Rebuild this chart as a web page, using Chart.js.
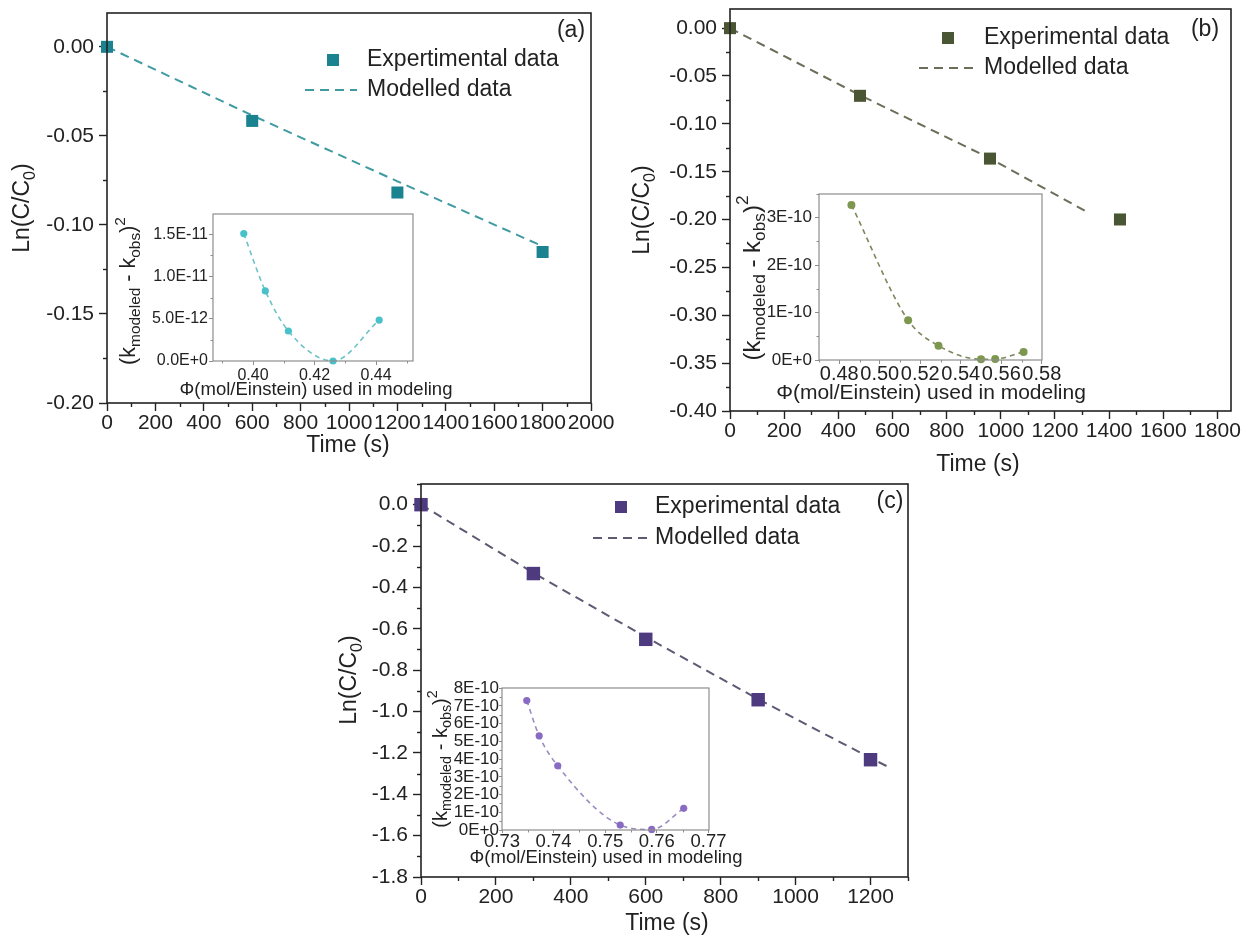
<!DOCTYPE html>
<html>
<head>
<meta charset="utf-8">
<script src="https://cdn.jsdelivr.net/npm/chart.js@4.4.1/dist/chart.umd.min.js"></script>
<style>
  body { margin: 0; background: #fff; }
  #fig { position: relative; width: 1242px; height: 939px; overflow: hidden; background: #fff; }
  #fig canvas { position: absolute; }
</style>
</head>
<body>
<div id="fig"></div>
<script>
// ---- (a) ----
const timeA = [0, 600, 1200, 1800];
const lnA = [0, -0.0416, -0.0818, -0.1152];
const modelTimeA = [0, 600, 1200, 1800];
const modelLnA = [0, -0.0385, -0.0755, -0.112];
const phiA = [0.397, 0.404, 0.4115, 0.426, 0.441];
const errA = [1.508e-11, 8.3e-12, 3.55e-12, 0, 4.85e-12];

// ---- (b) ----
const timeB = [0, 480, 960, 1440];
const lnB = [0, -0.0707, -0.1363, -0.1999];
const modelTimeB = [0, 480, 960, 1315];
const modelLnB = [0, -0.07, -0.136, -0.1915];
const phiB = [0.486, 0.514, 0.529, 0.55, 0.557, 0.571];
const errB = [3.27e-10, 0.84e-10, 0.30e-10, 0.015e-10, 0.02e-10, 0.17e-10];

// ---- (c) ----
const timeC = [0, 300, 600, 900, 1200];
const lnC = [0, -0.333, -0.651, -0.943, -1.233];
const modelTimeC = [0, 300, 600, 900, 1200, 1250];
const modelLnC = [0, -0.33, -0.64, -0.94, -1.225, -1.27];
const phiC = [0.7348, 0.7372, 0.7408, 0.7529, 0.759, 0.7652];
const errC = [7.3e-10, 5.31e-10, 3.62e-10, 0.28e-10, 0.03e-10, 1.22e-10];

// ---- tick labels ----
const timeTicksA = [0, 200, 400, 600, 800, 1000, 1200, 1400, 1600, 1800, 2000];
const lnTicksA = [-0.20, -0.15, -0.10, -0.05, 0.00];
const phiTicksA = [0.40, 0.42, 0.44];
const errTicksA = [0, 5e-12, 1e-11, 1.5e-11];

const timeTicksB = [0, 200, 400, 600, 800, 1000, 1200, 1400, 1600, 1800];
const lnTicksB = [-0.40, -0.35, -0.30, -0.25, -0.20, -0.15, -0.10, -0.05, 0.00];
const phiTicksB = [0.48, 0.50, 0.52, 0.54, 0.56, 0.58];
const errTicksB = [0, 1e-10, 2e-10, 3e-10];

const timeTicksC = [0, 200, 400, 600, 800, 1000, 1200];
const lnTicksC = [-1.8, -1.6, -1.4, -1.2, -1.0, -0.8, -0.6, -0.4, -0.2, 0.0];
const phiTicksC = [0.73, 0.74, 0.75, 0.76, 0.77];
const errTicksC = [0, 1e-10, 2e-10, 3e-10, 4e-10, 5e-10, 6e-10, 7e-10, 8e-10];

const FONT = '"Liberation Sans", Arial, Helvetica, sans-serif';
const INK = '#222';
const fig = document.getElementById('fig');

const toXY = (xs, ys) => xs.map((x, i) => ({ x, y: ys[i] }));
const fixed = (v, d) => (Math.abs(v) < 1e-12 ? 0 : v).toFixed(d);

function fmtE(v, d) {
  if (Math.abs(v) < 1e-30) return (0).toFixed(d) + 'E+0';
  const e = Math.floor(Math.log10(Math.abs(v)) + 1e-9);
  const m = v / Math.pow(10, e);
  return m.toFixed(d) + 'E' + (e < 0 ? '-' : '+') + Math.abs(e);
}

function minorTicks(ticks, min, max) {
  const t = ticks.slice().sort((p, q) => p - q);
  const step = t[1] - t[0];
  const out = [];
  for (let v = t[0] - step / 2; v >= min - 1e-12; v -= step) out.push(v);
  for (let i = 0; i < t.length - 1; i++) out.push((t[i] + t[i + 1]) / 2);
  for (let v = t[t.length - 1] + step / 2; v <= max + step * 1e-6; v += step) out.push(v);
  return out;
}

function seg(ctx, x1, y1, x2, y2) {
  ctx.beginPath(); ctx.moveTo(x1, y1); ctx.lineTo(x2, y2); ctx.stroke();
}

// text with sub/superscripts, centred on (x, y), optionally rotated
function richText(ctx, parts, x, y, size, rotate, subScale) {
  ctx.save();
  ctx.translate(x, y);
  if (rotate) ctx.rotate(-Math.PI / 2);
  const small = size * (subScale || 0.7);
  const widths = parts.map(p => {
    ctx.font = (p.s ? small : size) + 'px ' + FONT;
    return ctx.measureText(p.t).width;
  });
  let cx = -widths.reduce((s, w) => s + w, 0) / 2;
  ctx.textBaseline = 'middle';
  ctx.textAlign = 'left';
  ctx.fillStyle = INK;
  parts.forEach((p, i) => {
    ctx.font = (p.s ? small : size) + 'px ' + FONT;
    const dy = p.s === 'sub' ? size * 0.32 : p.s === 'sup' ? -size * 0.4 : 0;
    ctx.fillText(p.t, cx, dy);
    cx += widths[i];
  });
  ctx.restore();
}

const lnTitle = [{ t: 'Ln(C/C' }, { t: '0', s: 'sub' }, { t: ')' }];
const errTitle = [{ t: '(k' }, { t: 'modeled', s: 'sub' }, { t: ' - k' }, { t: 'obs', s: 'sub' }, { t: ')' }, { t: '2', s: 'sup' }];
const phiTitle = [{ t: 'Φ(mol/Einstein) used in modeling' }];
const timeTitle = [{ t: 'Time (s)' }];

function addCanvas(p) {
  const cv = document.createElement('canvas');
  cv.width = p.w; cv.height = p.h;
  cv.style.left = p.x0 + 'px';
  cv.style.top = p.y0 + 'px';
  fig.appendChild(cv);
  return cv;
}

function scaleOpts(p, axis, o) {
  const a = p.area;
  const horizontal = axis === 'x';
  return {
    type: 'linear',
    min: p[axis].min,
    max: p[axis].max,
    afterBuildTicks: s => { s.ticks = p[axis].ticks.map(v => ({ value: v })); },
    afterFit: s => {
      if (horizontal) s.height = p.h - (a[3] - p.y0);
      else s.width = a[0] - p.x0;
      s.paddingLeft = s.paddingRight = s.paddingTop = s.paddingBottom = 0;
    },
    border: { display: false },
    grid: {
      drawOnChartArea: false, drawTicks: true,
      tickLength: o.tickLen, tickColor: o.tickColor, tickWidth: o.tickWidth
    },
    ticks: {
      autoSkip: false, maxRotation: 0, minRotation: 0,
      padding: horizontal ? o.xPad : o.yPad,
      color: INK,
      font: { family: FONT, size: horizontal ? o.xFont : o.yFont },
      callback: p[axis].fmt
    }
  };
}

function makeChart(p, datasets, o, drawExtra) {
  const cv = addCanvas(p);
  const a = p.area;
  const overlay = {
    id: 'overlay',
    afterDraw(chart) {
      const { ctx, chartArea: ca, scales } = chart;
      ctx.save();
      ctx.strokeStyle = o.frameColor;
      ctx.lineWidth = o.frameWidth;
      ctx.strokeRect(ca.left, ca.top, ca.right - ca.left, ca.bottom - ca.top);
      ctx.strokeStyle = o.tickColor;
      ctx.lineWidth = o.tickWidth;
      minorTicks(p.x.ticks, p.x.min, p.x.max).forEach(v => {
        const px = Math.round(scales.x.getPixelForValue(v)) + 0.5;
        seg(ctx, px, ca.bottom, px, ca.bottom + o.minorLen);
      });
      minorTicks(p.y.ticks, p.y.min, p.y.max).forEach(v => {
        const py = Math.round(scales.y.getPixelForValue(v)) + 0.5;
        seg(ctx, ca.left, py, ca.left - o.minorLen, py);
      });
      const L = (x, y) => [x - p.x0, y - p.y0];
      const xt = L(p.xTitle[0], p.xTitle[1]);
      const yt = L(p.yTitle[0], p.yTitle[1]);
      richText(ctx, p.xTitleParts, xt[0], xt[1], o.xTitleSize, false);
      richText(ctx, p.yTitleParts, yt[0], yt[1], o.yTitleSize, true, o.subScale);
      if (drawExtra) drawExtra(ctx, L, chart);
      ctx.restore();
    }
  };
  return new Chart(cv, {
    type: 'scatter',
    data: { datasets },
    options: {
      responsive: false,
      animation: false,
      devicePixelRatio: 1,
      events: [],
      layout: {
        autoPadding: false,
        padding: { left: 0, top: a[2] - p.y0, right: p.x0 + p.w - a[1], bottom: 0 }
      },
      plugins: { legend: { display: false }, tooltip: { enabled: false } },
      scales: { x: scaleOpts(p, 'x', o), y: scaleOpts(p, 'y', o) }
    },
    plugins: [overlay]
  });
}

const mainStyle = {
  frameColor: INK, frameWidth: 1.6, tickColor: INK, tickWidth: 1.4,
  tickLen: 8, minorLen: 4, xPad: 0, yPad: 5, xFont: 21, yFont: 21,
  xTitleSize: 23, yTitleSize: 23, subScale: 0.7
};

function mainPanel(p) {
  const datasets = [
    {
      label: p.exp.label, data: toXY(p.exp.t, p.exp.v),
      pointStyle: 'rect', pointRadius: p.exp.r, backgroundColor: p.exp.color,
      borderColor: p.exp.color, borderWidth: 0, clip: false, order: 0
    },
    {
      label: 'Modelled data', data: toXY(p.model.t, p.model.v), showLine: true,
      pointRadius: 0, borderColor: p.model.color, borderWidth: 2,
      borderDash: [9, 6], fill: false, clip: false, order: 1
    }
  ];
  p.xTitleParts = timeTitle;
  p.yTitleParts = lnTitle;
  makeChart(p, datasets, mainStyle, (ctx, L, chart) => {
    const lg = p.legend;
    const sq = L(lg.sq[0], lg.sq[1]);
    ctx.fillStyle = p.exp.color;
    ctx.fillRect(sq[0] - 6, sq[1] - 6, 12, 12);
    ctx.font = '23px ' + FONT;
    ctx.fillStyle = INK;
    ctx.textBaseline = 'middle';
    ctx.textAlign = 'left';
    const tx = lg.tx - p.x0;
    ctx.fillText(datasets[0].label, tx, sq[1]);
    const d1 = L(lg.dash[0], lg.dash[2]);
    const d2 = L(lg.dash[1], lg.dash[2]);
    ctx.strokeStyle = p.model.color;
    ctx.lineWidth = 2;
    ctx.setLineDash([9, 6]);
    seg(ctx, d1[0], d1[1], d2[0], d2[1]);
    ctx.setLineDash([]);
    ctx.fillText(datasets[1].label, tx, d1[1]);
    const lt = L(p.letter[1], p.letter[2]);
    ctx.textAlign = 'center';
    ctx.fillText(p.letter[0], lt[0], lt[1]);
  });
}

function insetPanel(p) {
  const datasets = [{
    label: 'inset', data: toXY(p.phi, p.err), showLine: true,
    pointRadius: p.r, pointBackgroundColor: p.color, pointBorderWidth: 0,
    borderColor: p.lineColor, borderWidth: 1.6, borderDash: [5, 4],
    cubicInterpolationMode: 'monotone', fill: false, clip: false
  }];
  p.xTitleParts = phiTitle;
  p.yTitleParts = errTitle;
  makeChart(p, datasets, p.style);
}

mainPanel({
  x0: 0, y0: 0, w: 620, h: 470, area: [107, 591, 13, 403],
  x: { min: 0, max: 2000, ticks: timeTicksA, fmt: v => String(v) },
  y: { min: -0.2, max: 0.019, ticks: lnTicksA, fmt: v => fixed(v, 2) },
  exp: { label: 'Expertimental data', t: timeA, v: lnA, color: '#1b8390', r: 8.5 },
  model: { t: modelTimeA, v: modelLnA, color: '#3f9ba1' },
  xTitle: [348, 446], yTitle: [23, 208],
  legend: { sq: [333, 60], tx: 367, dash: [305, 357, 90] },
  letter: ['(a)', 571, 31]
});

mainPanel({
  x0: 620, y0: 0, w: 622, h: 480, area: [730, 1231, 9, 411],
  x: { min: 0, max: 1850, ticks: timeTicksB, fmt: v => String(v) },
  y: { min: -0.4, max: 0.02, ticks: lnTicksB, fmt: v => fixed(v, 2) },
  exp: { label: 'Experimental data', t: timeB, v: lnB, color: '#4a5533', r: 8.5 },
  model: { t: modelTimeB, v: modelLnB, color: '#6c6e5a' },
  xTitle: [978, 465], yTitle: [643, 210],
  legend: { sq: [948, 38], tx: 984, dash: [919, 977, 68] },
  letter: ['(b)', 1205, 30]
});

mainPanel({
  x0: 320, y0: 470, w: 622, h: 469, area: [421, 908, 484, 877],
  x: { min: 0, max: 1300, ticks: timeTicksC, fmt: v => String(v) },
  y: { min: -1.8, max: 0.1, ticks: lnTicksC, fmt: v => fixed(v, 1) },
  exp: { label: 'Experimental data', t: timeC, v: lnC, color: '#4e3a7f', r: 9.5 },
  model: { t: modelTimeC, v: modelLnC, color: '#5e5a73' },
  xTitle: [667, 924], yTitle: [350, 680],
  legend: { sq: [621, 507], tx: 655, dash: [593, 647, 538] },
  letter: ['(c)', 890, 502]
});

const insetBase = {
  frameColor: '#8e8e8e', frameWidth: 1.2, tickColor: '#8e8e8e', tickWidth: 1,
  tickLen: 4, minorLen: 2.5, subScale: 0.72
};

insetPanel({
  x0: 110, y0: 195, w: 360, h: 210, area: [213, 413, 214, 361],
  x: { min: 0.387, max: 0.452, ticks: phiTicksA, fmt: v => v.toFixed(2) },
  y: { min: 0, max: 1.74e-11, ticks: errTicksA, fmt: v => fmtE(v, 1) },
  phi: phiA, err: errA, r: 3.6, color: '#48c1ca', lineColor: '#6cc3c7',
  xTitle: [316, 390], yTitle: [129, 291],
  style: Object.assign({}, insetBase, { xPad: 1, yPad: 1, xFont: 16, yFont: 16, xTitleSize: 18.5, yTitleSize: 21.5 })
});

insetPanel({
  x0: 735, y0: 180, w: 360, h: 225, area: [819, 1042, 194, 360],
  x: { min: 0.47, max: 0.5801, ticks: phiTicksB, fmt: v => v.toFixed(2) },
  y: { min: 0, max: 3.5e-10, ticks: errTicksB, fmt: v => fmtE(v, 0) },
  phi: phiB, err: errB, r: 4, color: '#7d984e', lineColor: '#7b885c',
  xTitle: [931, 393], yTitle: [753, 278],
  style: Object.assign({}, insetBase, { xPad: -2, yPad: 3, xFont: 20, yFont: 17, xTitleSize: 21, yTitleSize: 24 })
});

insetPanel({
  x0: 425, y0: 675, w: 330, h: 200, area: [502, 709, 688, 830],
  x: { min: 0.73, max: 0.7701, ticks: phiTicksC, fmt: v => v.toFixed(2) },
  y: { min: 0, max: 8.01e-10, ticks: errTicksC, fmt: v => fmtE(v, 0) },
  phi: phiC, err: errC, r: 3.6, color: '#8a6bc3', lineColor: '#9c8cc0',
  xTitle: [606, 858], yTitle: [441, 759],
  style: Object.assign({}, insetBase, { tickLen: 3, xPad: -2, yPad: 0, xFont: 18.5, yFont: 17, xTitleSize: 18.5, yTitleSize: 20 })
});
</script>
</body>
</html>
